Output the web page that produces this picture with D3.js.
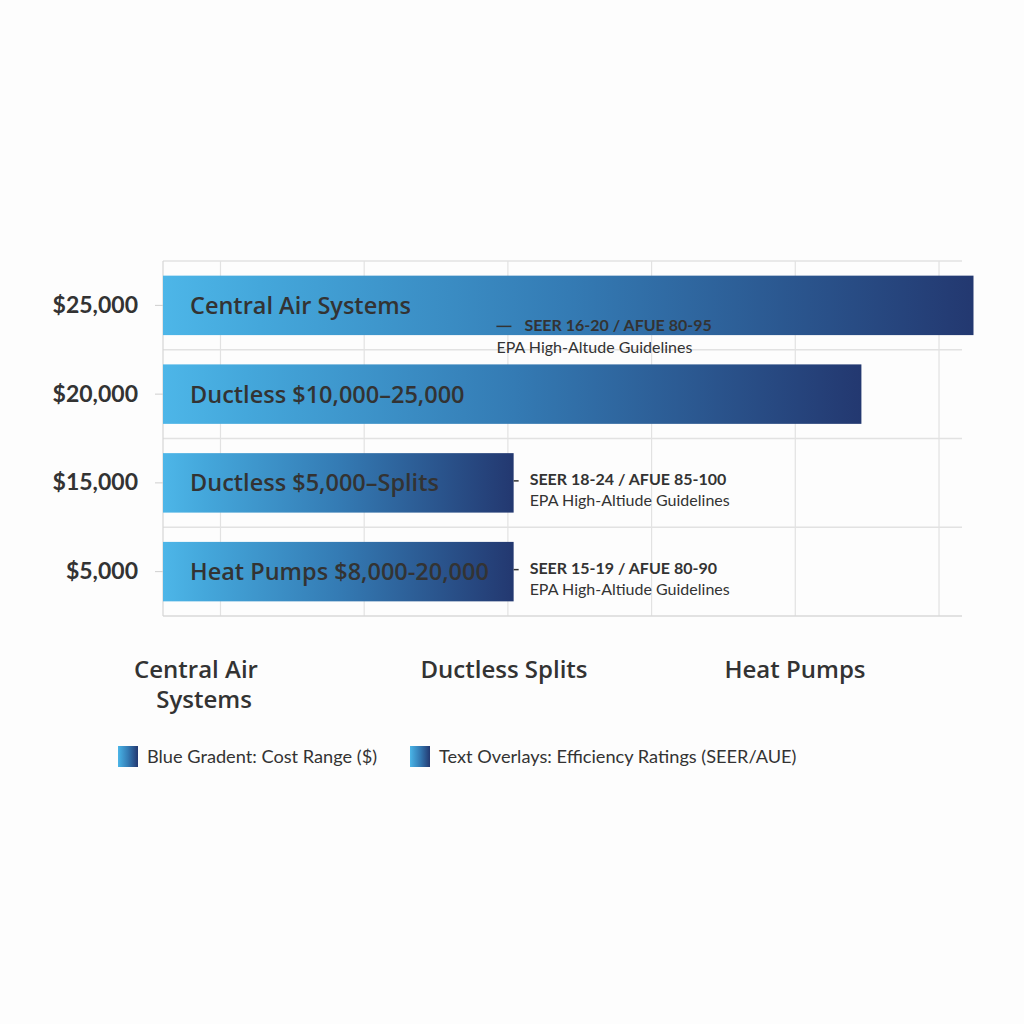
<!DOCTYPE html>
<html>
<head>
<meta charset="utf-8">
<script src="https://cdn.jsdelivr.net/npm/d3@7/dist/d3.min.js"></script>
<style>
  html, body { margin: 0; padding: 0; background: #fdfdfd; }
  svg { display: block; }
  text { font-family: Lato, "Open Sans", sans-serif; fill: #333; }
</style>
</head>
<body>
<script>
// ---- data ----
const rowLabels = ["$25,000", "$20,000", "$15,000", "$5,000"];
const barLabels = ["Central Air Systems", "Ductless $10,000–25,000", "Ductless $5,000–Splits", "Heat Pumps $8,000-20,000"];
const barValues = [28200, 24300, 12200, 12200];
const ratingLabels = ["SEER 16-20 / AFUE 80-95", null, "SEER 18-24 / AFUE 85-100", "SEER 15-19 / AFUE 80-90"];
const guidelineLabels = ["EPA High-Altude Guidelines", null, "EPA High-Altiude Guidelines", "EPA High-Altiude Guidelines"];
const ratingAt = [11600, null, 12200, 12200];
const gridValues = [2000, 7000, 12000, 17000, 22000, 27000];
const categories = [["Central Air", "Systems"], ["Ductless Splits"], ["Heat Pumps"]];
const legendLabels = ["Blue Gradent: Cost Range ($)", "Text Overlays: Efficiency Ratings (SEER/AUE)"];

// ---- layout ----
const W = 1024, H = 1024;
const plot = { left: 163, right: 962, top: 261, bottom: 616 };
const headFont = "'Open Sans', Lato, sans-serif";

const svg = d3.select("body").append("svg").attr("width", W).attr("height", H);
svg.append("rect").attr("width", W).attr("height", H).attr("fill", "#fdfdfd");

const defs = svg.append("defs");
const grad = defs.append("linearGradient").attr("id", "barGrad")
  .attr("x1", "0%").attr("x2", "100%").attr("y1", "0%").attr("y2", "0%");
[[0, "#4db6e8"], [0.12, "#44a7db"], [0.5, "#347bb4"], [1, "#233870"]].forEach(([o, c]) =>
  grad.append("stop").attr("offset", o).attr("stop-color", c));

const x = d3.scaleLinear().domain([0, 27800]).range([plot.left, plot.right]);
const y = d3.scaleBand().domain(d3.range(rowLabels.length))
  .range([plot.top, plot.bottom]).paddingInner(0.33).paddingOuter(0.165);
const step = y.step();

// grid
const grid = svg.append("g");
grid.selectAll("line.v").data(gridValues).join("line")
  .attr("x1", d => x(d)).attr("x2", d => x(d))
  .attr("y1", plot.top).attr("y2", plot.bottom)
  .attr("stroke", "#e2e2e2").attr("stroke-width", 1.2);
const hLines = d3.range(rowLabels.length + 1).map(i => plot.top + i * step);
grid.selectAll("line.h").data(hLines).join("line")
  .attr("x1", plot.left).attr("x2", plot.right)
  .attr("y1", d => d).attr("y2", d => d)
  .attr("stroke", (d, i) => i === rowLabels.length ? "#d8d8d8" : "#e2e2e2").attr("stroke-width", 1.5);
grid.append("line").attr("x1", plot.left).attr("x2", plot.left)
  .attr("y1", plot.top).attr("y2", plot.bottom).attr("stroke", "#d6d6d6").attr("stroke-width", 1.2);

// y axis
const yAxis = d3.axisLeft(d3.scaleBand().domain(rowLabels).range(y.range()).paddingInner(0.33).paddingOuter(0.165))
  .tickSize(8).tickPadding(17);
const ya = svg.append("g").attr("transform", `translate(${plot.left},0)`).call(yAxis);
ya.select(".domain").remove();
ya.selectAll(".tick line").attr("stroke", "#cfcfcf");
ya.selectAll(".tick text").attr("font-size", 23).attr("font-weight", 700)
  .attr("fill", "#333").style("font-family", "Lato, sans-serif");

// bars
const bars = svg.append("g");
bars.selectAll("rect").data(barValues).join("rect")
  .attr("x", x(0)).attr("y", (d, i) => y(i))
  .attr("width", d => x(d) - x(0)).attr("height", y.bandwidth())
  .attr("fill", "url(#barGrad)");

bars.selectAll("text").data(barLabels).join("text")
  .attr("x", x(0) + 27).attr("y", (d, i) => y(i) + y.bandwidth() / 2)
  .attr("dy", "0.36em").attr("font-size", 23.5).attr("font-weight", 600)
  .style("font-family", headFont).attr("fill", "#333").text(d => d);

// annotations
const ann = svg.append("g");
ratingLabels.forEach((lab, i) => {
  if (!lab) return;
  const ax = x(ratingAt[i]);
  const cy = y(i) + y.bandwidth() / 2;
  if (i === 0) {
    const by = cy + 26;
    ann.append("line").attr("x1", ax).attr("x2", ax + 15).attr("y1", by - 5).attr("y2", by - 5)
      .attr("stroke", "#333").attr("stroke-width", 1.5);
    ann.append("text").attr("x", ax + 28).attr("y", by).attr("font-size", 16).attr("font-weight", 700).text(lab);
    ann.append("text").attr("x", ax).attr("y", by + 22).attr("font-size", 16).attr("font-weight", 400).text(guidelineLabels[i]);
  } else {
    const by = cy + 2;
    ann.append("line").attr("x1", ax).attr("x2", ax + 5).attr("y1", by - 4).attr("y2", by - 4)
      .attr("stroke", "#333").attr("stroke-width", 1.5);
    ann.append("text").attr("x", ax + 16).attr("y", by).attr("font-size", 16).attr("font-weight", 700).text(lab);
    ann.append("text").attr("x", ax + 16).attr("y", by + 21).attr("font-size", 16).attr("font-weight", 400).text(guidelineLabels[i]);
  }
});

// bottom category labels
const cx = d3.scaleOrdinal().domain(categories.map(d => d.join(" "))).range([196, 504, 795]);
const cat = svg.append("g");
categories.forEach(lines => {
  const t = cat.append("text").attr("x", cx(lines.join(" "))).attr("y", 678)
    .attr("text-anchor", "middle").attr("font-size", 24).attr("font-weight", 600)
    .style("font-family", headFont);
  lines.forEach((l, j) => t.append("tspan").attr("x", cx(lines.join(" ")) + (j ? 8 : 0)).attr("dy", j ? 30 : 0).text(l));
});

// legend
const legX = [118, 410];
const leg = svg.append("g");
legendLabels.forEach((l, i) => {
  leg.append("rect").attr("x", legX[i]).attr("y", 746).attr("width", 20).attr("height", 21)
    .attr("fill", "url(#barGrad)");
  leg.append("text").attr("x", legX[i] + 29).attr("y", 763).attr("font-size", 18.2)
    .attr("font-weight", 400).text(l);
});
</script>
</body>
</html>
